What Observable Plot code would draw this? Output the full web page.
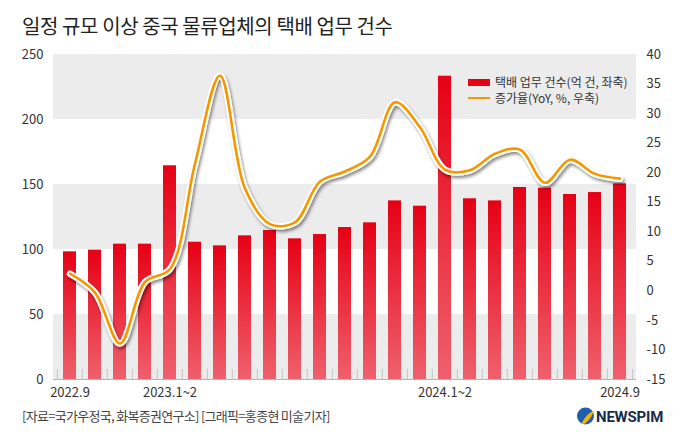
<!DOCTYPE html>
<html><head><meta charset="utf-8">
<script src="https://cdn.jsdelivr.net/npm/d3@7"></script>
<script src="https://cdn.jsdelivr.net/npm/@observablehq/plot@0.6"></script>
<style>
body{margin:0;background:#fff;font-family:"Noto Sans CJK KR",sans-serif;}
#wrap{position:relative;width:680px;height:442px;overflow:hidden;background:#fff;}
#title{position:absolute;left:22px;top:11px;font-size:20px;letter-spacing:-0.4px;color:#222;line-height:30px;white-space:nowrap;}
#chart{position:absolute;left:0;top:40px;}
.leg{position:absolute;font-size:12px;color:#333;line-height:16px;white-space:nowrap;}
.sw{position:absolute;}
#foot{position:absolute;left:22px;top:407px;font-size:13px;letter-spacing:-0.7px;color:#444;line-height:18px;white-space:nowrap;}
#logo{position:absolute;left:576px;top:405px;}
</style></head><body>
<div id="wrap">
<div id="title">일정 규모 이상 중국 물류업체의 택배 업무 건수</div>
<div id="chart"></div>
<div class="sw" style="left:468px;top:79px;width:22px;height:7px;background:#e60012;"></div>
<div class="leg" style="left:495px;top:74px;">택배 업무 건수(억 건, 좌축)</div>
<div class="sw" style="left:468px;top:97px;width:22px;height:2px;background:#f39800;"></div>
<div class="leg" style="left:495px;top:90px;">증가율(YoY, %, 우축)</div>
<div id="foot">[자료=국가우정국, 화복증권연구소] [그래픽=홍종현 미술기자]</div>
<svg id="logo" width="100" height="24" viewBox="0 0 100 24">
  <circle cx="9.5" cy="11" r="8.5" fill="#1f5fae"/>
  <path d="M5.5 18.5 C 8.5 13, 11.5 8.5, 17.5 6 C 16.5 11, 12.5 16, 8 19.3 Z" fill="#f6b300"/>
  <text x="20" y="17" font-family="Roboto, sans-serif" font-weight="700" font-size="15" letter-spacing="-0.2" fill="#1c2b4a">NEWSPIM</text>
</svg>
</div>
<script>
const months = ["2022.9","2022.10","2022.11","2022.12","2023.1~2","2023.3","2023.4","2023.5","2023.6","2023.7","2023.8","2023.9","2023.10","2023.11","2023.12","2024.1~2","2024.3","2024.4","2024.5","2024.6","2024.7","2024.8","2024.9"];
const volumes = [98.2, 99.5, 104.1, 104.1, 164.4, 105.6, 102.8, 110.5, 114.6, 108.2, 111.5, 116.9, 120.5, 137.4, 133.3, 233.3, 139.0, 137.4, 147.7, 147.2, 142.3, 143.8, 150.5];
const growth = [2.9, -0.3, -8.9, 1.5, 3.7, 21.5, 36.4, 17.3, 11.3, 11.6, 18.5, 20.2, 22.7, 31.9, 27.7, 20.5, 20.4, 23.2, 23.9, 18.3, 22.2, 19.8, 19.0];
const xLabels = ["2022.9","2023.1~2","2024.1~2","2024.9"];
const leftTicks = [0, 50, 100, 150, 200, 250];
const rightTicks = [-15, -10, -5, 0, 5, 10, 15, 20, 25, 30, 35, 40];
const bandRanges = [[0, 50], [100, 150], [200, 250]];

const leftMax = 250, rightMin = -15, rightMax = 40;
const toLeft = v => (v - rightMin) * leftMax / (rightMax - rightMin);
const toRight = v => Math.round(v * (rightMax - rightMin) / leftMax + rightMin);

const W = 680, H = 370, ML = 53, MR = 44, MT = 14, MB = 31;
const step = (W - ML - MR) / months.length;
const rows = months.map((m, i) => ({m, vol: volumes[i], g: growth[i]}));
const bands = bandRanges.map(([lo, hi]) => ({lo, hi}));
const last = months[months.length - 1];

const chart = Plot.plot({
  width: W, height: H,
  marginLeft: ML, marginRight: MR, marginTop: MT, marginBottom: MB,
  style: {fontFamily: '"Noto Sans CJK KR", sans-serif', fontSize: "13px", color: "#333", background: "transparent"},
  x: {domain: months, paddingInner: 0.48, paddingOuter: 0.24, axis: null},
  y: {domain: [0, 250], axis: null, label: null},
  marks: [
    Plot.rect(bands, {y1: "lo", y2: "hi", fill: "#ececec"}),
    Plot.barY(rows, {x: "m", y: "vol", fill: "url(#barGrad)"}),
    Plot.ruleY([0], {stroke: "#b5b5b5"}),
    Plot.ruleX(months, {x: d => d, y1: 0, y2: 7.7, stroke: "#c4c4c4", dx: -step / 2}),
    Plot.ruleX([last], {x: d => d, y1: 0, y2: 7.7, stroke: "#c4c4c4", dx: step / 2}),
    Plot.line(rows, {x: "m", y: d => toLeft(d.g), curve: "catmull-rom", stroke: "#fff", strokeWidth: 6.5}),
    Plot.line(rows, {x: "m", y: d => toLeft(d.g), curve: "catmull-rom", stroke: "#f39800", strokeWidth: 2.6}),
    Plot.axisX(xLabels, {tickSize: 0, tickPadding: 8, label: null, fontSize: 13}),
    Plot.axisY(leftTicks, {anchor: "left", tickSize: 0, tickPadding: 10, label: null, fontSize: 13}),
    Plot.axisY(rightTicks.map(toLeft), {anchor: "right", tickSize: 0, tickPadding: 10, label: null, fontSize: 13, tickFormat: d => String(toRight(d))})
  ]
});

const svg = d3.select(chart);
const defs = svg.insert("defs", ":first-child");
const grad = defs.append("linearGradient").attr("id", "barGrad").attr("x1", 0).attr("y1", 0).attr("x2", 0).attr("y2", 1);
grad.append("stop").attr("offset", "0%").attr("stop-color", "#e60014");
grad.append("stop").attr("offset", "100%").attr("stop-color", "#ef606d");
const f = defs.append("filter").attr("id", "shadow").attr("x", "-10%").attr("y", "-10%").attr("width", "130%").attr("height", "130%");
f.append("feDropShadow").attr("dx", 1.5).attr("dy", 2.5).attr("stdDeviation", 1.8).attr("flood-color", "#000").attr("flood-opacity", 0.45);
const lines = svg.selectAll('g[aria-label="line"]').nodes();
if (lines.length) d3.select(lines[0]).attr("filter", "url(#shadow)");
svg.selectAll('g[aria-label="y-axis tick label"] text, g[aria-label="x-axis tick label"] text').attr("fill", "#333");
document.getElementById("chart").appendChild(chart);
</script>
</body></html>
